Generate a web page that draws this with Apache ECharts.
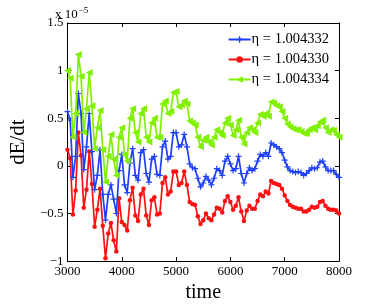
<!DOCTYPE html>
<html>
<head>
<meta charset="utf-8">
<script src="https://cdn.jsdelivr.net/npm/echarts@6/dist/echarts.min.js"></script>
<style>html,body{margin:0;padding:0;background:#fff}#c{width:374px;height:308px}</style>
</head>
<body>
<div id="c"></div>
<script>
const time = [3000,3050,3100,3150,3200,3250,3300,3350,3400,3450,3500,3550,3600,3650,3700,3750,3800,3850,3900,3950,
4000,4050,4100,4150,4200,4250,4300,4350,4400,4450,4500,4550,4600,4650,4700,4750,4800,4850,4900,4950,
5000,5050,5100,5150,5200,5250,5300,5350,5400,5450,5500,5550,5600,5650,5700,5750,5800,5850,5900,5950,
6000,6050,6100,6150,6200,6250,6300,6350,6400,6450,6500,6550,6600,6650,6700,6750,6800,6850,6900,6950,
7000,7050,7100,7150,7200,7250,7300,7350,7400,7450,7500,7550,7600,7650,7700,7750,7800,7850,7900,7950,8000];

const blue = [0.57,0.48,-0.12,0.10,0.76,0.55,-0.04,0.20,0.55,0.15,-0.25,-0.10,0.17,-0.30,-0.57,-0.30,-0.20,-0.35,-0.50,-0.05,
0.12,-0.20,-0.28,0.03,0.18,-0.10,-0.15,0.14,0.17,-0.08,-0.17,0.07,0.10,-0.09,-0.10,0.20,0.26,0.07,0.10,0.35,
0.35,0.20,0.22,0.33,0.20,0.02,-0.02,-0.03,-0.13,-0.22,-0.18,-0.11,-0.15,-0.20,-0.13,-0.03,-0.05,-0.10,0.05,0.10,
0.02,-0.05,-0.03,0.10,-0.08,-0.18,-0.08,-0.02,-0.05,-0.03,0.05,0.12,0.10,0.14,0.10,0.24,0.22,0.20,0.18,0.14,
0.06,-0.01,-0.05,-0.06,-0.07,-0.06,-0.07,-0.10,-0.08,-0.05,-0.02,-0.03,-0.02,0.04,0.05,-0.01,-0.05,-0.05,-0.05,-0.09,-0.12];

const red = [0.17,0.08,-0.51,-0.26,0.35,0.11,-0.44,-0.25,0.15,-0.19,-0.64,-0.46,-0.24,-0.63,-0.97,-0.71,-0.60,-0.78,-0.90,-0.34,
-0.59,-0.62,-0.68,-0.36,-0.23,-0.52,-0.58,-0.30,-0.24,-0.52,-0.62,-0.36,-0.33,-0.51,-0.50,-0.18,-0.12,-0.30,-0.27,-0.06,
-0.06,-0.20,-0.18,-0.06,-0.20,-0.38,-0.40,-0.41,-0.53,-0.61,-0.57,-0.50,-0.55,-0.57,-0.51,-0.44,-0.45,-0.49,-0.37,-0.32,
-0.38,-0.46,-0.42,-0.33,-0.48,-0.58,-0.47,-0.42,-0.45,-0.45,-0.37,-0.30,-0.32,-0.27,-0.29,-0.16,-0.18,-0.19,-0.20,-0.24,
-0.31,-0.37,-0.41,-0.43,-0.44,-0.45,-0.45,-0.48,-0.48,-0.46,-0.43,-0.44,-0.43,-0.38,-0.37,-0.42,-0.45,-0.46,-0.46,-0.47,-0.50];

const green = [1.00,0.92,0.30,0.55,1.17,0.94,0.35,0.60,0.98,0.63,0.18,0.40,0.58,0.17,-0.17,0.10,0.33,0.07,-0.10,0.30,
0.40,0.12,0.05,0.50,0.60,0.35,0.25,0.55,0.60,0.30,0.25,0.45,0.50,0.30,0.30,0.65,0.68,0.55,0.57,0.77,
0.78,0.62,0.64,0.68,0.65,0.47,0.45,0.43,0.30,0.20,0.27,0.30,0.25,0.22,0.30,0.38,0.35,0.32,0.45,0.50,
0.43,0.32,0.38,0.48,0.30,0.23,0.35,0.40,0.38,0.35,0.45,0.54,0.52,0.55,0.52,0.67,0.66,0.63,0.62,0.57,
0.50,0.44,0.41,0.39,0.38,0.38,0.36,0.34,0.34,0.38,0.40,0.38,0.42,0.46,0.48,0.40,0.35,0.38,0.37,0.33,0.30];

const seriesNames = ['\u03b7 = 1.004332', '\u03b7 = 1.004330', '\u03b7 = 1.004334'];
const xTicks = [3000,4000,5000,6000,7000,8000];
const yTicks = [-1,-0.5,0,0.5,1,1.5];

const FONT = '"Liberation Serif","DejaVu Serif",serif';
const pairs = (ys) => time.map((t, i) => [t, ys[i]]);
const plusPath = 'path://M4,0H6V4H10V6H6V10H4V6H0V4H4Z';

const chart = echarts.init(document.getElementById('c'), null, {renderer: 'canvas'});
const axisCommon = () => ({
  axisLine: {show: true, onZero: false, lineStyle: {color: '#000', width: 1}},
  axisTick: {show: true, inside: true, length: 4, lineStyle: {color: '#000'}},
  splitLine: {show: false}
});
chart.setOption({
  animation: false,
  backgroundColor: '#fff',
  grid: {left: 53, right: 35, top: 23, bottom: 36, containLabel: false},
  legend: {
    orient: 'vertical', right: 40, top: 27, itemGap: 5, itemWidth: 22, itemHeight: 8,
    textStyle: {fontFamily: FONT, fontSize: 14.5, color: '#000', padding: [0,0,0,-4]},
    data: seriesNames
  },
  graphic: [{
    type: 'text', left: 55, top: 6,
    style: {
      text: '{a|x 10}{b|\u22125}',
      rich: {
        a: {fontFamily: FONT, fontSize: 13, fill: '#000', verticalAlign: 'bottom'},
        b: {fontFamily: FONT, fontSize: 9, fill: '#000', verticalAlign: 'top', padding: [0,0,6,1]}
      }
    }
  }],
  xAxis: [
    Object.assign(axisCommon(), {
      type: 'value', min: 3000, max: 8000, interval: 1000, position: 'bottom',
      name: 'time', nameLocation: 'middle', nameGap: 13,
      nameTextStyle: {fontFamily: FONT, fontSize: 20, color: '#000'},
      axisLabel: {fontFamily: FONT, fontSize: 13, color: '#000', margin: 4,
        formatter: (v) => xTicks.includes(v) ? String(v) : ''}
    }),
    Object.assign(axisCommon(), {
      type: 'value', min: 3000, max: 8000, interval: 1000, position: 'top',
      axisLabel: {show: false}
    })
  ],
  yAxis: [
    Object.assign(axisCommon(), {
      type: 'value', min: -1, max: 1.5, interval: 0.5, position: 'left',
      name: 'dE/dt', nameLocation: 'middle', nameGap: 25, nameRotate: 90,
      nameTextStyle: {fontFamily: FONT, fontSize: 21, color: '#000'},
      axisLabel: {fontFamily: FONT, fontSize: 13, color: '#000', margin: 4,
        formatter: (v) => yTicks.includes(v) ? String(v).replace('-', '\u2212') : ''}
    }),
    Object.assign(axisCommon(), {
      type: 'value', min: -1, max: 1.5, interval: 0.5, position: 'right',
      axisLabel: {show: false}
    })
  ],
  series: [
    {name: seriesNames[0], type: 'line', data: pairs(blue), color: '#1f3fff',
      symbol: plusPath, symbolSize: 6, showAllSymbol: true,
      lineStyle: {width: 1.7}, itemStyle: {color: '#1f3fff'}, z: 3},
    {name: seriesNames[1], type: 'line', data: pairs(red), color: '#ff1010',
      symbol: 'circle', symbolSize: 4.5, showAllSymbol: true,
      lineStyle: {width: 1.7}, itemStyle: {color: '#ff1010'}, z: 2},
    {name: seriesNames[2], type: 'line', data: pairs(green), color: '#7ff000',
      symbol: 'triangle', symbolRotate: 90, symbolSize: 7, showAllSymbol: true,
      lineStyle: {width: 1.7}, itemStyle: {color: '#7ff000'}, z: 4}
  ]
});
</script>
</body>
</html>
